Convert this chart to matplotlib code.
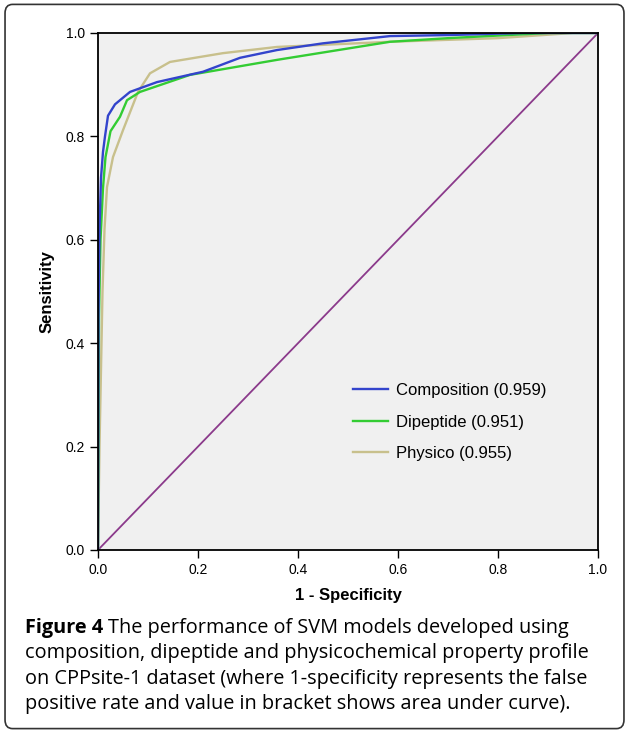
import matplotlib
matplotlib.use("Agg")
import matplotlib.pyplot as plt
from matplotlib.patches import FancyBboxPatch

comp_x = [0, 0.001, 0.003, 0.006, 0.010, 0.014, 0.02, 0.034, 0.064, 0.118, 0.21, 0.284, 0.358, 0.45, 0.584, 0.7, 0.85, 1.0]
comp_y = [0, 0.45, 0.62, 0.72, 0.77, 0.80, 0.84, 0.862, 0.886, 0.905, 0.925, 0.952, 0.967, 0.98, 0.994, 0.996, 1.0, 1.0]
dip_x = [0, 0.002, 0.005, 0.010, 0.015, 0.025, 0.044, 0.058, 0.084, 0.184, 0.358, 0.584, 0.7, 0.9, 1.0]
dip_y = [0, 0.45, 0.60, 0.70, 0.76, 0.81, 0.838, 0.87, 0.886, 0.919, 0.948, 0.983, 0.99, 1.0, 1.0]
phy_x = [0, 0.003, 0.006, 0.009, 0.013, 0.018, 0.03, 0.05, 0.08, 0.104, 0.144, 0.25, 0.358, 0.584, 0.8, 0.95, 1.0]
phy_y = [0, 0.2, 0.35, 0.5, 0.62, 0.702, 0.76, 0.812, 0.886, 0.922, 0.944, 0.961, 0.973, 0.983, 0.99, 1.0, 1.0]
labels = ["Composition (0.959)", "Dipeptide (0.951)", "Physico (0.955)"]
colors = ["#3344cc", "#33cc33", "#c8c08c"]
ticks = [0.0, 0.2, 0.4, 0.6, 0.8, 1.0]

plt.rcParams['font.family'] = ['Liberation Sans', 'DejaVu Sans']
fig = plt.figure(figsize=(6.29, 7.33), dpi=100)
fig.patches.append(FancyBboxPatch((0.008, 0.006), 0.984, 0.988, boxstyle="round,pad=0,rounding_size=0.012",
                                  transform=fig.transFigure, fc="none", ec="#333333", lw=1.2, figure=fig, zorder=-1))
ax = fig.add_axes([0.1558, 0.2497, 0.795, 0.7053])
ax.set_facecolor("#f0f0f0")
ax.plot([0, 1], [0, 1], color="#8b3a8b", lw=1.3)
for xs, ys, c, l in [(phy_x, phy_y, colors[2], labels[2]), (dip_x, dip_y, colors[1], labels[1]), (comp_x, comp_y, colors[0], labels[0])]:
    ax.plot(xs, ys, color=c, lw=1.7, label=l)
ax.set_xlim(0, 1); ax.set_ylim(0, 1)
ax.set_xticks(ticks); ax.set_yticks(ticks)
ax.set_xticklabels([f"{t:.1f}" for t in ticks], fontsize=10)
ax.set_yticklabels([f"{t:.1f}" for t in ticks], fontsize=10)
ax.tick_params(length=6, width=1, direction="out")
for s in ax.spines.values():
    s.set_linewidth(1.3)
ax.set_xlabel("1 - Specificity", fontsize=12, fontweight="bold", labelpad=8)
ax.set_ylabel("Sensitivity", fontsize=12, fontweight="bold", labelpad=8)
h, l = ax.get_legend_handles_labels()
leg = ax.legend(h[::-1], l[::-1], loc="upper left", bbox_to_anchor=(0.48, 0.352), frameon=False,
                fontsize=12, handlelength=2.1, handletextpad=0.5, labelspacing=1.0)

cap = ["composition, dipeptide and physicochemical property profile",
       "on CPPsite-1 dataset (where 1-specificity represents the false",
       "positive rate and value in bracket shows area under curve)."]
fs = 14.3
t0 = fig.text(0.04, 0.1365, "Figure 4", fontsize=fs, fontweight="bold", family="Open Sans", va="baseline")
fig.canvas.draw()
bb = t0.get_window_extent()
fig.text((bb.x1 + 5) / 629, 0.1365, "The performance of SVM models developed using", fontsize=fs,
         family="Open Sans", va="baseline")
for i, line in enumerate(cap):
    fig.text(0.04, 0.1365 - (i + 1) * 0.0345, line, fontsize=fs, family="Open Sans", va="baseline")
fig.savefig("out.png", dpi=100)
